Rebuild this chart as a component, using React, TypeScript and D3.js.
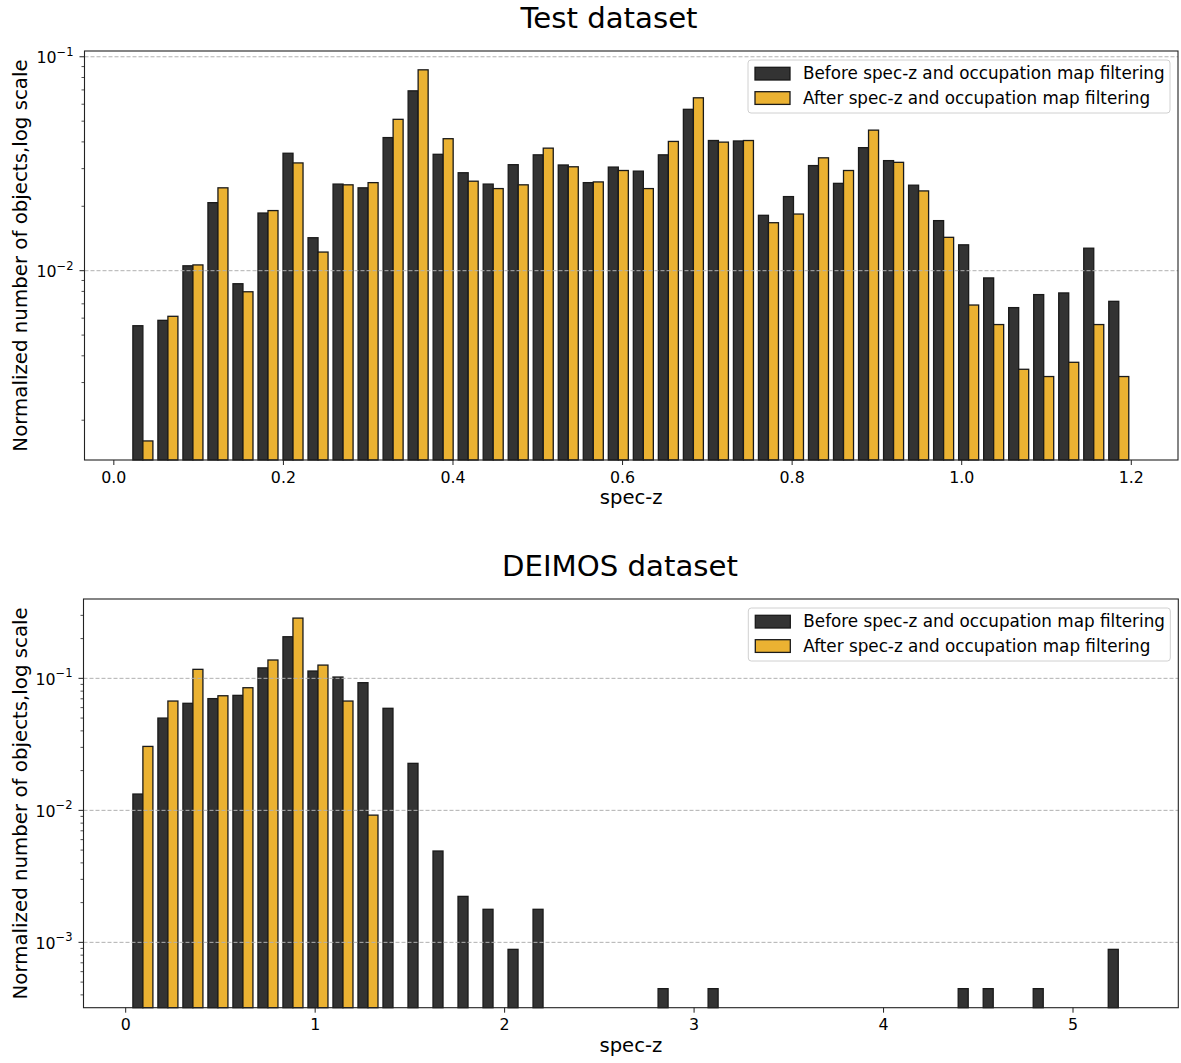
import React from 'react';
import * as d3 from 'd3';

// normalized histogram heights (40 bins each)
const TEST_BEFORE = [
  0.00553, 0.00586, 0.01054, 0.0208, 0.00869, 0.0186, 0.0354, 0.01426, 0.0254, 0.0244,
  0.0419, 0.0693, 0.035, 0.0287, 0.0254, 0.0313, 0.0348, 0.0312, 0.0258, 0.0305,
  0.0292, 0.0348, 0.0568, 0.0406, 0.0404, 0.01815, 0.0222, 0.031, 0.0256, 0.0376,
  0.0327, 0.0251, 0.01714, 0.01321, 0.00925, 0.00672, 0.00773, 0.00787, 0.01274, 0.00719,
];
const TEST_AFTER = [
  0.0016, 0.00612, 0.01064, 0.0244, 0.00797, 0.0191, 0.0319, 0.01222, 0.0252, 0.0258,
  0.051, 0.0869, 0.0414, 0.0262, 0.0242, 0.0252, 0.0374, 0.0306, 0.026, 0.0294,
  0.0242, 0.0402, 0.0643, 0.0399, 0.0406, 0.01676, 0.0184, 0.0337, 0.0294, 0.0454,
  0.0321, 0.0236, 0.01432, 0.00691, 0.0056, 0.00346, 0.0032, 0.00373, 0.0056, 0.0032,
];
const DEIMOS_BEFORE = [
  0.01329, 0.05, 0.0647, 0.0702, 0.0743, 0.12, 0.2066, 0.1136, 0.1023, 0.0927,
  0.0593, 0.0227, 0.00492, 0.00223, 0.00178, 0.000885, 0.00178, 0, 0, 0,
  0, 0.000446, 0, 0.000446, 0, 0, 0, 0, 0, 0,
  0, 0, 0, 0.000446, 0.000446, 0, 0.000446, 0, 0, 0.000885,
];
const DEIMOS_AFTER = [
  0.0305, 0.0673, 0.117, 0.0738, 0.0849, 0.1377, 0.286, 0.126, 0.0673, 0.0092,
  0, 0, 0, 0, 0, 0, 0, 0, 0, 0,
  0, 0, 0, 0, 0, 0, 0, 0, 0, 0,
  0, 0, 0, 0, 0, 0, 0, 0, 0, 0,
];

const TEST_XTICKS = [0, 0.2, 0.4, 0.6, 0.8, 1.0, 1.2];
const DEIMOS_XTICKS = [0, 1, 2, 3, 4, 5];
const LEGEND_LABELS = [
  'Before spec-z and occupation map filtering',
  'After spec-z and occupation map filtering',
];

const FONT = 'DejaVu Sans';
const DARK = '#333333';
const GOLD = '#ebb232';

function Panel({ title, titleX, titleY, box, xDomain, yDomain, zRange, before, after, xTicks, xFmt }) {
  const { left, right, top, bottom } = box;
  const x = d3.scaleLinear().domain(xDomain).range([left, right]);
  const y = d3.scaleLog().domain(yDomain).range([bottom, top]);
  const nb = before.length;
  const edge = d3.scaleLinear().domain([0, nb]).range(zRange);
  const bw = (zRange[1] - zRange[0]) / nb;

  const lo = Math.floor(Math.log10(yDomain[0]));
  const hi = Math.ceil(Math.log10(yDomain[1]));
  const majors = d3.range(lo, hi + 1).map((k) => Math.pow(10, k)).filter((v) => v >= yDomain[0] && v <= yDomain[1]);
  const minors = [];
  d3.range(lo, hi + 1).forEach((k) => {
    d3.range(2, 10).forEach((m) => {
      const v = m * Math.pow(10, k);
      if (v >= yDomain[0] && v <= yDomain[1]) minors.push(v);
    });
  });

  const bar = (vals, off, color, key) =>
    vals.map((v, i) =>
      v > 0 ? (
        <rect
          key={key + i}
          x={x(edge(i) + off * bw)}
          width={x(edge(i) + (off + 0.4) * bw) - x(edge(i) + off * bw)}
          y={y(v)}
          height={bottom - y(v)}
          fill={color}
          stroke="#1a1a1a"
          strokeWidth={1.3}
        />
      ) : null
    );

  const cy = (top + bottom) / 2;
  const lgTop = top + 9;
  const lgRight = right - 8;
  return (
    <g fontFamily={FONT}>
      <text x={titleX} y={titleY} fontSize={29.2} textAnchor="middle">{title}</text>
      {bar(before, 0.1, DARK, 'b')}
      {bar(after, 0.5, GOLD, 'a')}
      {majors.map((v) => (
        <line key={'g' + v} x1={left} x2={right} y1={y(v)} y2={y(v)} stroke="#b0b0b0" strokeDasharray="4,2" strokeWidth={1} />
      ))}
      <rect x={left} y={top} width={right - left} height={bottom - top} fill="none" stroke="#222" strokeWidth={1.1} />
      {xTicks.map((t) => (
        <g key={'x' + t}>
          <line x1={x(t)} x2={x(t)} y1={bottom} y2={bottom + 5} stroke="#222" strokeWidth={1} />
          <text x={x(t)} y={bottom + 22.5} fontSize={15.8} textAnchor="middle">{xFmt(t)}</text>
        </g>
      ))}
      {minors.map((v) => (
        <line key={'m' + v} x1={left - 3} x2={left} y1={y(v)} y2={y(v)} stroke="#222" strokeWidth={0.8} />
      ))}
      {majors.map((v) => (
        <g key={'y' + v}>
          <line x1={left - 5} x2={left} y1={y(v)} y2={y(v)} stroke="#222" strokeWidth={1} />
          <text x={left - 11} y={y(v) + 6.6} fontSize={15.8} textAnchor="end">
            10<tspan fontSize={11.5} dy={-7.5}>{'\u2212' + Math.round(-Math.log10(v))}</tspan>
          </text>
        </g>
      ))}
      <text x={(left + right) / 2} y={bottom + 44} fontSize={19.6} textAnchor="middle">spec-z</text>
      <text transform={`translate(27,${cy}) rotate(-90)`} fontSize={19.8} textAnchor="middle">
        Normalized number of objects,log scale
      </text>
      <rect x={lgRight - 422} y={lgTop} width={422} height={53} rx={3} fill="white" fillOpacity={0.8} stroke="#d0d0d0" strokeWidth={1} />
      {LEGEND_LABELS.map((s, i) => (
        <g key={s}>
          <rect x={lgRight - 415} y={lgTop + 7.3 + i * 24.4} width={35} height={12.7} fill={i === 0 ? DARK : GOLD} stroke="#1a1a1a" strokeWidth={1.3} />
          <text x={lgRight - 367} y={lgTop + 19.3 + i * 24.2} fontSize={16.8}>{s}</text>
        </g>
      ))}
    </g>
  );
}

export default function App() {
  return (
    <svg width={1181} height={1063} style={{ position: 'absolute', left: 0, top: 0, background: 'white' }}>
      <Panel
        title="Test dataset"
        titleX={609}
        titleY={27.5}
        box={{ left: 84.5, right: 1178, top: 51, bottom: 460 }}
        xDomain={[-0.0346, 1.2551]}
        yDomain={[Math.pow(10, -2.885), Math.pow(10, -0.973)]}
        zRange={[0.0195, 1.2]}
        before={TEST_BEFORE}
        after={TEST_AFTER}
        xTicks={TEST_XTICKS}
        xFmt={d3.format('.1f')}
      />
      <Panel
        title="DEIMOS dataset"
        titleX={620}
        titleY={576}
        box={{ left: 83.5, right: 1178.3, top: 599, bottom: 1007.7 }}
        xDomain={[-0.2227, 5.5557]}
        yDomain={[Math.pow(10, -3.495), Math.pow(10, -0.399)]}
        zRange={[0.0248, 5.3048]}
        before={DEIMOS_BEFORE}
        after={DEIMOS_AFTER}
        xTicks={DEIMOS_XTICKS}
        xFmt={d3.format('d')}
      />
    </svg>
  );
}
